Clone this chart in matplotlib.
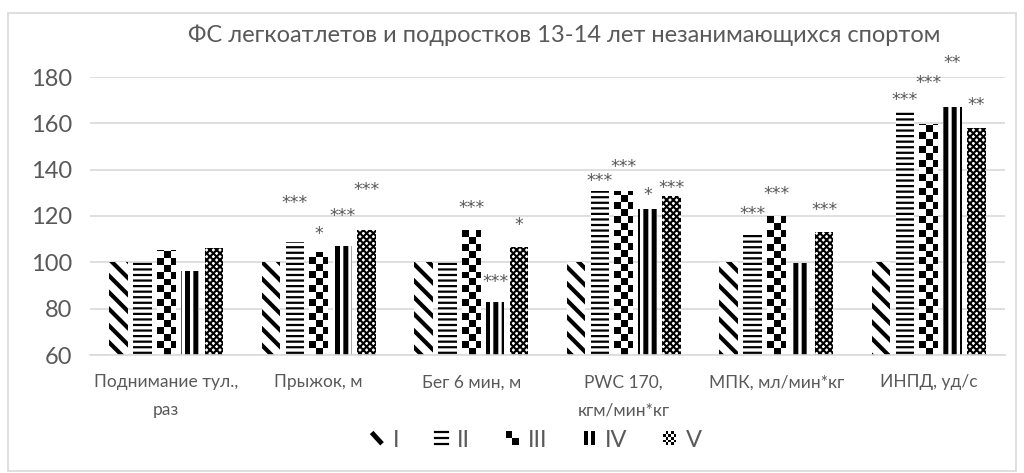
import numpy as np
import matplotlib
matplotlib.use("Agg")
import matplotlib.pyplot as plt
from matplotlib.patches import Rectangle, Patch
from matplotlib.lines import Line2D
from matplotlib.colors import ListedColormap
from matplotlib.legend_handler import HandlerBase

plt.rcParams['font.family'] = ['Lato', 'DejaVu Sans']

title = "ФС легкоатлетов и подростков 13-14 лет незанимающихся спортом"
categories = ["Поднимание тул.,\nраз", "Прыжок, м", "Бег 6 мин, м",
              "PWC 170,\nкгм/мин*кг", "МПК, мл/мин*кг", "ИНПД, уд/с"]
series_names = ["I", "II", "III", "IV", "V"]

s1 = [100, 100, 100, 100, 100, 100]
s2 = [100, 108.8, 100, 130.8, 111.7, 165]
s3 = [105.3, 104.5, 113.9, 131, 119.9, 159.9]
s4 = [96.2, 107, 83, 123, 99.7, 167]
s5 = [106, 113.9, 106.5, 128.5, 113, 158]

# significance marks and the heights at which they are shown
marks1 = ["", "", "", "", "", ""]
marks2 = ["", "***", "", "***", "***", "***"]
marks3 = ["", "*", "***", "***", "***", "***"]
marks4 = ["", "***", "***", "*", "", "**"]
marks5 = ["", "***", "*", "***", "***", "**"]
nan = np.nan
mpos1 = [nan] * 6
mpos2 = [nan, 125.6, nan, 135.1, 120.9, 170.0]
mpos3 = [nan, 112.2, 123.5, 141.1, 129.5, 177.3]
mpos4 = [nan, 120.0, 91.6, 129.1, nan, 186.0]
mpos5 = [nan, 131.2, 116.1, 132.1, 122.6, 167.8]

yticks = [60, 80, 100, 120, 140, 160, 180]

values = [s1, s2, s3, s4, s5]
marks = [marks1, marks2, marks3, marks4, marks5]
mpos = [mpos1, mpos2, mpos3, mpos4, mpos5]

text_color = '#595959'
grid_color = '#d9d9d9'

fig = plt.figure(figsize=(10.24, 4.73), dpi=100)
ax = fig.add_axes([90 / 1024, 1 - 355 / 473, (1005 - 90) / 1024, (355 - 77) / 473])

x = np.arange(len(categories))
pitch = 0.157
width = 0.122
hatches = ['\\\\', '---', None, '||', 'xxxxx']
hlw = [3.0, 1.6, 1.0, 3.6, 1.5]

containers = []
for i, vals in enumerate(values):
    offs = (i - 2) * pitch
    with plt.rc_context({'hatch.linewidth': hlw[i]}):
        bars = ax.bar(x + offs, vals, width=width, facecolor='white',
                      edgecolor='black', linewidth=0, hatch=hatches[i], zorder=2)
    for b in bars:
        if hasattr(b, 'set_hatch_linewidth'):
            b.set_hatch_linewidth(hlw[i])
    containers.append(bars)

# checkerboard pattern for series III
sq_x = 0.046
sq_y = 3.0
cmap = ListedColormap(['white', 'black'])
for rect in containers[2]:
    x0 = rect.get_x()
    w = rect.get_width()
    h = rect.get_height()
    ncol = int(np.ceil(w / sq_x))
    nrow = int(np.ceil((h - 60) / sq_y))
    arr = np.add.outer(np.arange(nrow), np.arange(ncol)) % 2
    im = ax.imshow(arr, cmap=cmap, extent=(x0, x0 + ncol * sq_x, 60, 60 + nrow * sq_y),
                   origin='lower', aspect='auto', interpolation='nearest', zorder=2.1)
    im.set_clip_path(rect)

# significance marks
for i in range(len(values)):
    offs = (i - 2) * pitch
    for j in range(len(categories)):
        if marks[i][j]:
            ax.text(x[j] + offs, mpos[i][j], marks[i][j], ha='center', va='center',
                    fontsize=12.5, color=text_color, clip_on=False, zorder=3,
                    family='DejaVu Sans')

ax.set_xlim(-0.5, len(categories) - 0.5)
ax.set_ylim(60, 180)
ax.set_yticks(yticks)
ax.set_xticks(x)
ax.set_xticklabels(categories, linespacing=1.9, fontsize=12.5)
ax.tick_params(axis='both', length=0, labelcolor=text_color)
ax.tick_params(axis='y', pad=13, labelsize=17)
ax.tick_params(axis='x', pad=14)
ax.grid(axis='y', color=grid_color, linewidth=1.2, zorder=0)
ax.set_axisbelow(True)
for sp in ['top', 'right', 'left']:
    ax.spines[sp].set_visible(False)
ax.spines['bottom'].set_color(grid_color)
ax.spines['bottom'].set_linewidth(1.2)

fig.text(564 / 1024, 1 - 35 / 473, title, ha='center', va='center',
         fontsize=17, color=text_color)


class PatternHandler(HandlerBase):
    def __init__(self, kind):
        super().__init__()
        self.kind = kind

    def create_artists(self, legend, orig_handle, xdescent, ydescent,
                       width, height, fontsize, trans):
        x0, y0 = -xdescent, -ydescent
        arts = []
        if self.kind == 'diag':
            arts.append(Line2D([x0 + 0.1 * width, x0 + 0.9 * width],
                               [y0 + 0.9 * height, y0 + 0.1 * height],
                               color='black', lw=3.5, solid_capstyle='butt',
                               transform=trans))
        elif self.kind == 'hlines':
            for k in range(3):
                yy = y0 + height * (0.1 + 0.4 * k)
                arts.append(Line2D([x0, x0 + width], [yy, yy], color='black',
                                   lw=1.6, transform=trans))
        elif self.kind == 'vbars':
            for k in range(2):
                arts.append(Rectangle((x0 + width * (0.05 + 0.55 * k), y0),
                                      width * 0.35, height, facecolor='black',
                                      edgecolor='none', transform=trans))
        else:
            n = 2 if self.kind == 'checker' else 5
            for r in range(n):
                for c in range(n):
                    if (r + c) % 2 == 1:
                        arts.append(Rectangle((x0 + c * width / n, y0 + r * height / n),
                                              width / n, height / n, facecolor='black',
                                              edgecolor='none', transform=trans))
        return arts


legend_kinds = ['diag', 'hlines', 'checker', 'vbars', 'fine']
handles = [Patch(facecolor='white') for _ in series_names]
hmap = {h: PatternHandler(k) for h, k in zip(handles, legend_kinds)}
leg = fig.legend(handles, series_names, loc='center', ncol=5,
                 bbox_to_anchor=(536 / 1024, 1 - 440 / 473), frameon=False,
                 fontsize=17, handlelength=0.55, handleheight=0.55,
                 handletextpad=0.4, columnspacing=1.5, handler_map=hmap)
for t in leg.get_texts():
    t.set_color(text_color)

fig.patches.append(Rectangle((8 / 1024, 2 / 473), 1008 / 1024, 458 / 473,
                             transform=fig.transFigure, fill=False,
                             edgecolor=grid_color, linewidth=1.2))

fig.savefig('out.png', dpi=100)
